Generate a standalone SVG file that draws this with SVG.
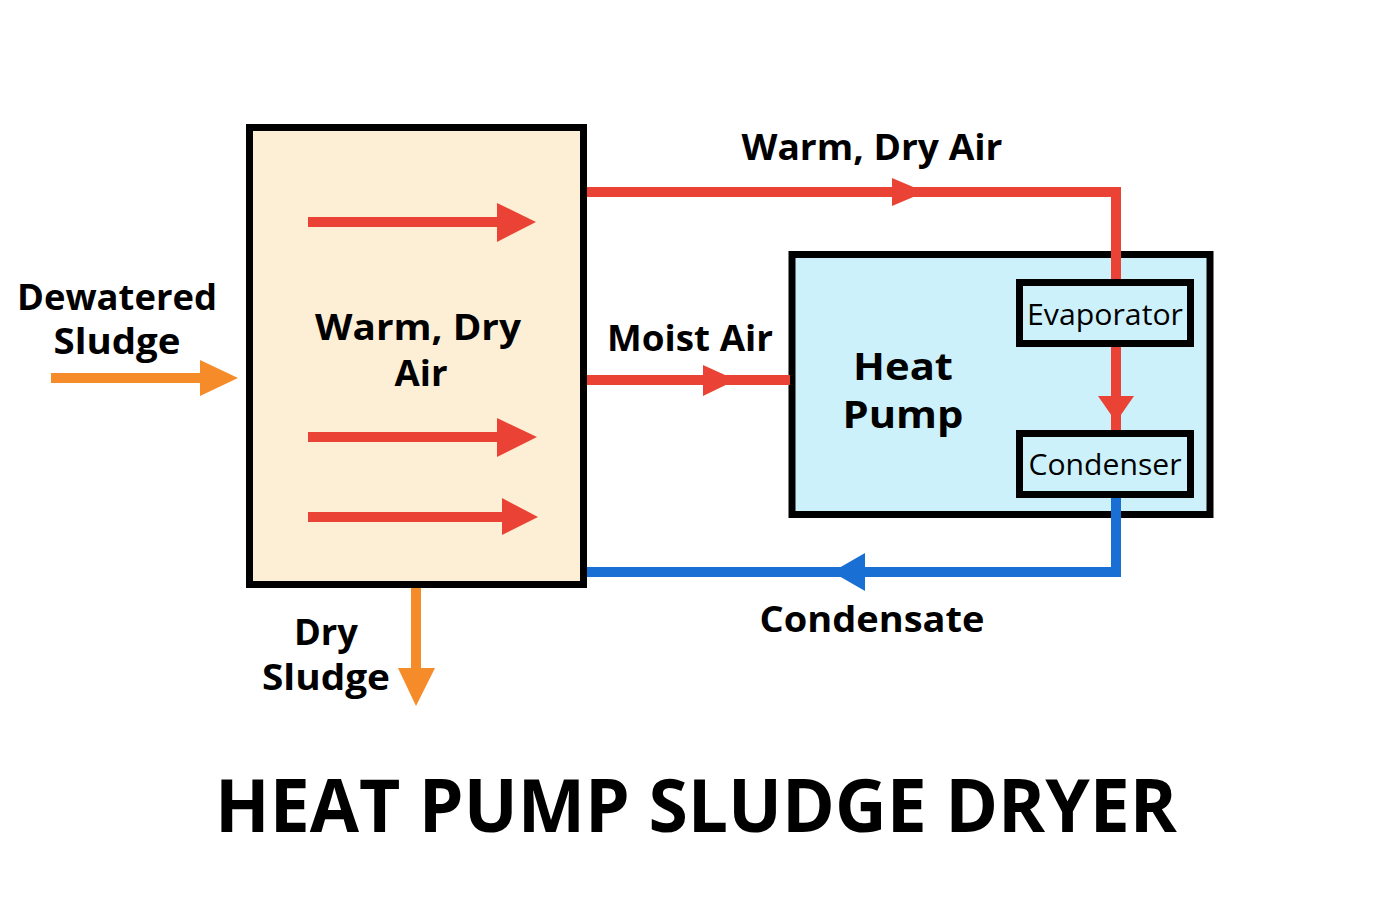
<svg xmlns="http://www.w3.org/2000/svg" width="1379" height="920" viewBox="0 0 1379 920">
<defs>
<style>
.t{font-family:"Open Sans","Liberation Sans",sans-serif;font-weight:700;fill:#000;text-anchor:middle}
.r{font-family:"Open Sans","Liberation Sans",sans-serif;font-weight:400;fill:#000;text-anchor:middle}
.box{stroke:#000;stroke-width:7}
.red{stroke:#ea4335;stroke-width:10;fill:none}
.blue{stroke:#1a6fd4;stroke-width:10;fill:none}
.org{stroke:#f68b2a;stroke-width:10;fill:none}
</style>
</defs>
<rect width="1379" height="920" fill="#fff"/>
<g id="dryer">
<rect class="box" x="249.5" y="127.5" width="334" height="457" fill="#fdefd6"/>
<line class="red" x1="308" y1="222" x2="500" y2="222" stroke-width="11"/>
<polygon points="497,203 536,222 497,242" fill="#ea4335"/>
<line class="red" x1="308" y1="437" x2="500" y2="437" stroke-width="11"/>
<polygon points="497,418 537,437 497,457" fill="#ea4335"/>
<line class="red" x1="308" y1="517" x2="505" y2="517" stroke-width="11"/>
<polygon points="502,498 538,517 502,535" fill="#ea4335"/>
<text class="t" x="418" y="340" font-size="36" textLength="206" lengthAdjust="spacingAndGlyphs">Warm, Dry</text>
<text class="t" x="421" y="386" font-size="36" textLength="53" lengthAdjust="spacingAndGlyphs">Air</text>
</g>
<g id="heatpump">
<rect class="box" x="792" y="254.5" width="418" height="260" fill="#cdf1fb"/>
<text class="t" x="903" y="380" font-size="38" textLength="100" lengthAdjust="spacingAndGlyphs">Heat</text>
<text class="t" x="903" y="428" font-size="38" textLength="121" lengthAdjust="spacingAndGlyphs">Pump</text>
</g>
<g id="connectors">
<polyline class="red" points="587,192 1116,192 1116,282"/>
<polygon points="892,178 925,192 892,206" fill="#ea4335"/>
<line class="red" x1="587" y1="380" x2="790" y2="380"/>
<polygon points="703,365 736,380 703,396" fill="#ea4335"/>
<line class="red" x1="1116" y1="346" x2="1116" y2="432"/>
<polygon points="1098,396 1134,396 1116,422" fill="#ea4335"/>
<polyline class="blue" points="1116,497 1116,572 587,572"/>
<polygon points="865,553 832,572 865,591" fill="#1a6fd4"/>
<line class="org" x1="51" y1="378" x2="202" y2="378"/>
<polygon points="200,360 238,378 200,396" fill="#f68b2a"/>
<line class="org" x1="416" y1="588" x2="416" y2="672"/>
<polygon points="398,668 435,668 416,706" fill="#f68b2a"/>
</g>
<g id="evaporator">
<rect x="1019.5" y="282.5" width="171" height="61" fill="#cdf1fb" stroke="#000" stroke-width="7"/>
<text class="r" x="1105" y="325" font-size="30" textLength="156" lengthAdjust="spacingAndGlyphs">Evaporator</text>
</g>
<g id="condenser">
<rect x="1019.5" y="433.5" width="171" height="61" fill="#cdf1fb" stroke="#000" stroke-width="7"/>
<text class="r" x="1105" y="475" font-size="30" textLength="153" lengthAdjust="spacingAndGlyphs">Condenser</text>
</g>
<g id="labels">
<text class="t" x="872" y="160" font-size="36" textLength="261" lengthAdjust="spacingAndGlyphs">Warm, Dry Air</text>
<text class="t" x="690" y="351" font-size="36" textLength="166" lengthAdjust="spacingAndGlyphs">Moist Air</text>
<text class="t" x="117" y="310" font-size="35" textLength="200" lengthAdjust="spacingAndGlyphs">Dewatered</text>
<text class="t" x="117" y="354" font-size="35" textLength="127" lengthAdjust="spacingAndGlyphs">Sludge</text>
<text class="t" x="326" y="645" font-size="35" textLength="64" lengthAdjust="spacingAndGlyphs">Dry</text>
<text class="t" x="326" y="690" font-size="35" textLength="128" lengthAdjust="spacingAndGlyphs">Sludge</text>
<text class="t" x="872" y="632" font-size="36" textLength="225" lengthAdjust="spacingAndGlyphs">Condensate</text>
<text class="t" x="696" y="832" font-size="74" font-weight="800" textLength="962" lengthAdjust="spacingAndGlyphs">HEAT PUMP SLUDGE DRYER</text>
</g>
</svg>
